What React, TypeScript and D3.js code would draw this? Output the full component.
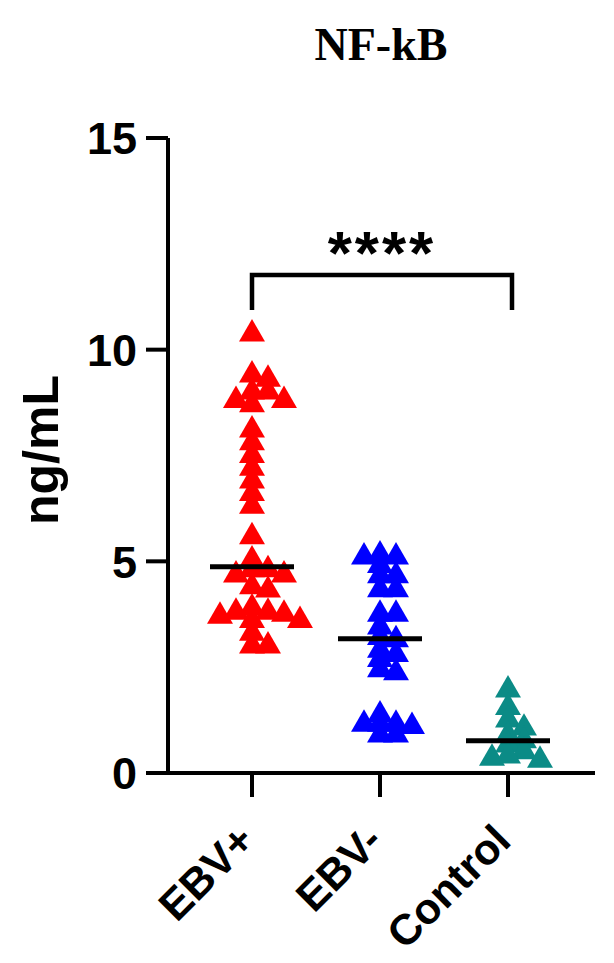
import React from 'react';
import * as d3 from 'd3';

const categories = ['EBV+', 'EBV-', 'Control'];
const ebvPositive = [10.37, 9.4, 9.3, 9.0, 9.0, 8.8, 8.8, 8.7, 8.1, 7.8, 7.5, 7.2, 6.9, 6.6, 6.3, 5.58, 5.03, 4.8, 4.8, 4.68, 4.68, 4.4, 4.32, 3.9, 3.8, 3.8, 3.75, 3.7, 3.6, 3.6, 3.3, 3.0, 3.0];
const ebvNegative = [5.15, 5.1, 5.1, 4.9, 4.66, 4.66, 4.33, 4.33, 3.75, 3.75, 3.45, 3.2, 3.15, 2.9, 2.8, 2.68, 2.44, 2.37, 1.37, 1.15, 1.15, 1.15, 1.1, 0.9, 0.9];
const controlValues = [1.96, 1.55, 1.25, 1.06, 0.9, 0.76, 0.66, 0.5, 0.4, 0.35, 0.3];
const medians = [4.87, 3.17, 0.76];
const groupColors = ['#ff0000', '#0000ff', '#0b8b86'];
const yTicks = [0, 5, 10, 15];
const title = 'NF-kB';
const yLabel = 'ng/mL';
const significance = '****';

const W = 614;
const H = 963;
const SANS = "'Liberation Sans', Arial, sans-serif";
const SERIF = "'Liberation Serif', 'Times New Roman', serif";

function swarm(values: number[], cx: number, y: (v: number) => number) {
  const step = 8;
  const minDx = 15;
  const minDy = 9;
  const placed: { x: number; y: number; v: number }[] = [];
  const order = [...values].sort((a, b) => b - a);
  for (const v of order) {
    const py = y(v);
    for (let k = 0; k < 60; k++) {
      const off = k === 0 ? 0 : (k % 2 ? 1 : -1) * Math.ceil(k / 2) * step;
      const px = cx + off;
      if (!placed.some(q => Math.abs(q.x - px) < minDx && Math.abs(q.y - py) < minDy)) {
        placed.push({ x: px, y: py, v });
        break;
      }
    }
  }
  return placed;
}

export default function App() {
  const y = d3.scaleLinear().domain([0, 15]).range([773, 138]);
  const x = d3.scalePoint<string>().domain(categories).range([252, 508]);
  const axisX0 = 168;
  const axisX1 = 595;
  const groups = [ebvPositive, ebvNegative, controlValues];
  const tri = d3.symbol().type(d3.symbolTriangle).size(292)() as string;

  return (
    <svg width={W} height={H} style={{ position: 'absolute', left: 0, top: 0, background: '#fff' }}>
      <rect x={0} y={0} width={W} height={H} fill="#fff" />
      <text x={381} y={60} textAnchor="middle" fontFamily={SERIF} fontWeight="bold" fontSize={46} fill="#000">{title}</text>

      {/* Y axis */}
      <line x1={axisX0} x2={axisX0} y1={y(15)} y2={y(0) + 2} stroke="#000" strokeWidth={4} />
      {yTicks.map(t => (
        <g key={t}>
          <line x1={axisX0 - 22} x2={axisX0} y1={y(t)} y2={y(t)} stroke="#000" strokeWidth={4} />
          <text x={137} y={y(t)} dy="0.36em" textAnchor="end" fontFamily={SANS} fontWeight="bold" fontSize={45} fill="#000">{t}</text>
        </g>
      ))}
      <text transform={`translate(58, 450) rotate(-90)`} textAnchor="middle" fontFamily={SANS} fontWeight="bold" fontSize={50} fill="#000">{yLabel}</text>

      {/* X axis */}
      <line x1={axisX0 - 2} x2={axisX1} y1={y(0)} y2={y(0)} stroke="#000" strokeWidth={4} />
      {categories.map(c => (
        <g key={c}>
          <line x1={x(c)} x2={x(c)} y1={y(0)} y2={y(0) + 24} stroke="#000" strokeWidth={4} />
          <text transform={`translate(${(x(c) as number) + 5}, 843) rotate(-45)`} textAnchor="end" fontFamily={SANS} fontWeight="bold" fontSize={43} fill="#000">{c}</text>
        </g>
      ))}

      {/* points */}
      {groups.map((vals, gi) => {
        const cx = x(categories[gi]) as number;
        return swarm(vals, cx, y).map((p, i) => (
          <path key={`${gi}-${i}`} d={tri} transform={`translate(${p.x},${p.y})`} fill={groupColors[gi]} />
        ));
      })}

      {/* medians */}
      {medians.map((m, gi) => {
        const cx = x(categories[gi]) as number;
        return <line key={gi} x1={cx - 42} x2={cx + 42} y1={y(m)} y2={y(m)} stroke="#000" strokeWidth={5} />;
      })}

      {/* significance bracket */}
      <path d={`M${x(categories[0])},310 V275 H${(x(categories[2]) as number) + 4} V310`} fill="none" stroke="#000" strokeWidth={4.5} />
      <text x={382} y={274} textAnchor="middle" fontFamily={SANS} fontWeight="bold" fontSize={62} letterSpacing={3} fill="#000">{significance}</text>
    </svg>
  );
}
